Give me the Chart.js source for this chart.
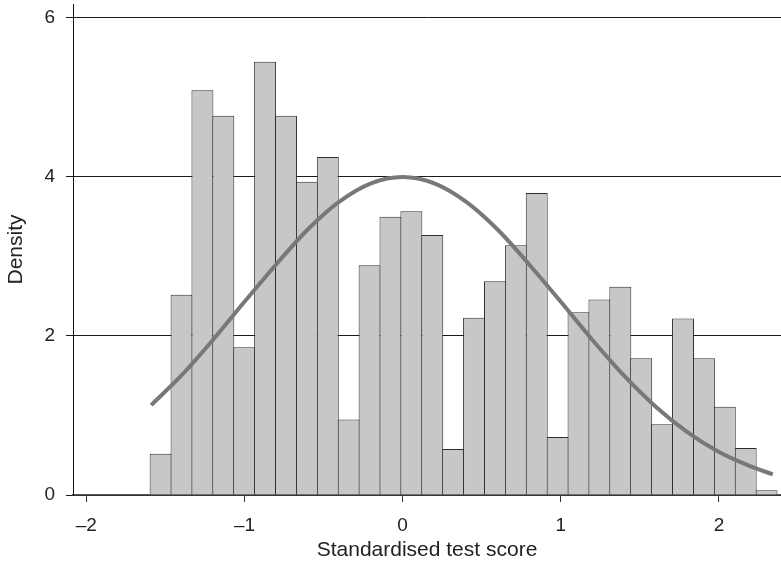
<!DOCTYPE html>
<html>
<head>
<meta charset="utf-8">
<script src="https://cdn.jsdelivr.net/npm/chart.js@4.4.1/dist/chart.umd.min.js"></script>
<style>
  html, body { margin: 0; padding: 0; background: #ffffff; }
  #wrap { width: 781px; height: 564px; }
</style>
</head>
<body>
<div id="wrap"><canvas id="c" width="781" height="564"></canvas></div>
<script>
// Histogram bin centres (standardised test score)
const binCenters = [-1.5300, -1.3979, -1.2658, -1.1337, -1.0016, -0.8695, -0.7374, -0.6053, -0.4732, -0.3411,
                    -0.2090, -0.0769, 0.0552, 0.1873, 0.3194, 0.4515, 0.5836, 0.7157, 0.8478, 0.9799,
                    1.1120, 1.2441, 1.3762, 1.5083, 1.6404, 1.7725, 1.9046, 2.0367, 2.1688, 2.3009];
// Histogram densities
const binDensity = [0.52, 2.52, 5.09, 4.77, 1.86, 5.45, 4.77, 3.94, 4.25, 0.95,
                    2.89, 3.50, 3.57, 3.27, 0.58, 2.23, 2.69, 3.14, 3.80, 0.73,
                    2.30, 2.46, 2.62, 1.72, 0.89, 2.22, 1.72, 1.11, 0.59, 0.06];
// Fitted normal curve
const curveX = [-1.59, -1.4, -1.2, -1.0, -0.8, -0.6, -0.4, -0.2, 0, 0.2, 0.4, 0.6, 0.8, 1.0, 1.2, 1.4, 1.6, 1.8, 2.0, 2.2, 2.34];
const curveY = [1.13, 1.50, 1.95, 2.43, 2.90, 3.34, 3.69, 3.92, 4.00, 3.92, 3.69, 3.34, 2.90, 2.43, 1.95, 1.50, 1.11, 0.79, 0.54, 0.36, 0.26];
// Axis ticks
const xTicks = [-2, -1, 0, 1, 2];
const yTicks = [0, 2, 4, 6];
const xLabel = 'Standardised test score';
const yLabel = 'Density';

const FONT = "'Liberation Sans', Arial, Helvetica, sans-serif";

const barData = binCenters.map((x, i) => ({ x: x, y: binDensity[i] }));
const lineData = curveX.map((x, i) => ({ x: x, y: curveY[i] }));

new Chart(document.getElementById('c'), {
  type: 'bar',
  data: {
    datasets: [
      {
        type: 'line',
        data: lineData,
        borderColor: '#787878',
        borderWidth: 4,
        pointRadius: 0,
        fill: false,
        cubicInterpolationMode: 'monotone',
        order: 0
      },
      {
        type: 'bar',
        data: barData,
        backgroundColor: '#c6c7c9',
        borderColor: '#2e2e2e',
        borderWidth: 1,
        barPercentage: 1.05,
        categoryPercentage: 1,
        inflateAmount: 0,
        order: 1
      }
    ]
  },
  options: {
    responsive: false,
    devicePixelRatio: 1,
    animation: false,
    layout: { padding: { top: 4, right: 0, bottom: 0, left: 0 } },
    plugins: { legend: { display: false }, tooltip: { enabled: false } },
    scales: {
      x: {
        type: 'linear',
        min: -2.084,
        max: 2.392,
        offset: false,
        afterBuildTicks: (axis) => { axis.ticks = xTicks.map(v => ({ value: v })); },
        afterFit: (axis) => { axis.height = 69; axis.paddingLeft = 0; axis.paddingRight = 0; },
        ticks: {
          autoSkip: false,
          maxRotation: 0,
          padding: 12,
          color: '#222',
          font: { family: FONT, size: 19 },
          callback: (v) => (v < 0 ? '\u2013' + Math.abs(v) : String(v))
        },
        grid: { display: true, offset: false, drawOnChartArea: false, drawTicks: true, tickLength: 7, color: '#333', lineWidth: 1 },
        border: { display: true, color: '#555', width: 1.5 },
        title: { display: true, text: xLabel, color: '#222', font: { family: FONT, size: 21 }, padding: { top: 0, bottom: 1 } }
      },
      y: {
        type: 'linear',
        min: 0,
        max: 6.176,
        afterBuildTicks: (axis) => { axis.ticks = yTicks.map(v => ({ value: v })); },
        afterFit: (axis) => { axis.width = 73; axis.paddingTop = 0; axis.paddingBottom = 0; },
        ticks: {
          padding: 11,
          color: '#222',
          font: { family: FONT, size: 19 },
          callback: (v) => String(v)
        },
        grid: { display: true, drawOnChartArea: true, drawTicks: true, tickLength: 7, color: '#1a1a1a', lineWidth: 1 },
        border: { display: true, color: '#111', width: 1 },
        title: { display: true, text: yLabel, color: '#222', font: { family: FONT, size: 21 }, padding: { top: 4, bottom: 0 } }
      }
    }
  }
});
</script>
</body>
</html>
